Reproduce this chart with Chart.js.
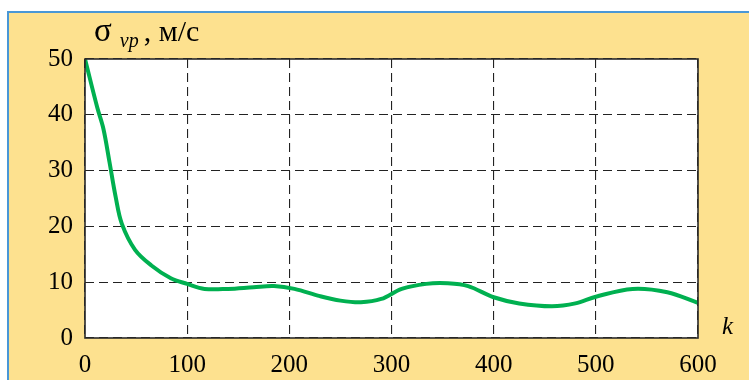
<!DOCTYPE html>
<html>
<head>
<meta charset="utf-8">
<script src="https://cdn.jsdelivr.net/npm/chart.js@4/dist/chart.umd.min.js"></script>
<style>
  html, body { margin: 0; padding: 0; background: #fff; }
  #wrap { position: relative; width: 749px; height: 380px; overflow: hidden; }
  #panel { position: absolute; left: 7px; top: 11px; width: 760px; height: 400px; background: #fde18f; border-top: 2px solid #4a97d6; border-left: 2px solid #4a97d6; }
  #chart { position: absolute; left: 0; top: 0; }
  .lbl { position: absolute; font-family: 'Liberation Serif', 'Times New Roman', serif; color: #000; white-space: nowrap; }
  #ytitle { left: 94px; top: 12px; font-size: 30px; }
  #ytitle .sig { font-size: 33px; }
  #ytitle .sub { font-size: 20px; font-style: italic; position: relative; top: 6px; margin: 0 5px 0 8px; }
  #klbl { left: 722px; top: 312px; font-size: 25px; font-style: italic; }
</style>
</head>
<body>
<div id="wrap">
  <div id="panel"></div>
  <canvas id="chart" width="749" height="380"></canvas>
  <div id="ytitle" class="lbl"><span class="sig">σ</span><span class="sub">νр</span>, м/с</div>
  <div id="klbl" class="lbl">k</div>
</div>
<script>
const kValues = [0, 12, 18, 24, 30, 36, 49, 65, 84, 100, 117, 140, 165, 185, 205, 230, 250, 270, 290, 310, 334, 355, 375, 400, 425, 457, 480, 500, 536, 570, 600];
const sigmaValues = [50, 41.3, 37.5, 31.5, 25.3, 20.5, 15.8, 13, 10.7, 9.7, 8.8, 8.8, 9.1, 9.3, 8.8, 7.5, 6.7, 6.4, 7.0, 8.8, 9.7, 9.8, 9.3, 7.3, 6.2, 5.7, 6.2, 7.4, 8.8, 8.2, 6.3];
const xTicks = [0, 100, 200, 300, 400, 500, 600];
const yTicks = [0, 10, 20, 30, 40, 50];

const serif = "'Liberation Serif', 'Times New Roman', serif";

const frame = {
  id: 'frame',
  beforeDraw(chart) {
    const a = chart.chartArea, ctx = chart.ctx;
    ctx.save();
    ctx.fillStyle = '#ffffff';
    ctx.fillRect(a.left, a.top, a.right - a.left, a.bottom - a.top);
    ctx.restore();
  },
  afterDatasetsDraw(chart) {
    const a = chart.chartArea, ctx = chart.ctx;
    ctx.save();
    ctx.strokeStyle = '#2a2a2a';
    ctx.lineWidth = 1.6;
    ctx.strokeRect(a.left, a.top, a.right - a.left, a.bottom - a.top);
    ctx.restore();
  }
};

new Chart(document.getElementById('chart'), {
  type: 'line',
  data: {
    datasets: [{
      data: kValues.map((k, i) => ({ x: k, y: sigmaValues[i] })),
      borderColor: '#00b050',
      borderWidth: 4,
      pointRadius: 0,
      tension: 0.35,
      fill: false
    }]
  },
  options: {
    responsive: false,
    animation: false,
    layout: { padding: { top: 59, right: 51, left: 0, bottom: 0 } },
    plugins: { legend: { display: false }, tooltip: { enabled: false } },
    scales: {
      x: {
        type: 'linear', min: 0, max: 600,
        afterFit: s => { s.height = 42; },
        afterBuildTicks: s => { s.ticks = xTicks.map(v => ({ value: v })); },
        grid: { color: '#222', lineWidth: 1.1, drawTicks: false },
        border: { display: false, dash: [9, 5] },
        ticks: { color: '#000', padding: 12, maxRotation: 0, font: { family: serif, size: 25 } }
      },
      y: {
        type: 'linear', min: 0, max: 50,
        afterFit: s => { s.width = 85; },
        afterBuildTicks: s => { s.ticks = yTicks.map(v => ({ value: v })); },
        grid: { color: '#222', lineWidth: 1.1, drawTicks: false },
        border: { display: false, dash: [9, 5] },
        ticks: { color: '#000', padding: 12, font: { family: serif, size: 25 } }
      }
    }
  },
  plugins: [frame]
});
</script>
</body>
</html>
